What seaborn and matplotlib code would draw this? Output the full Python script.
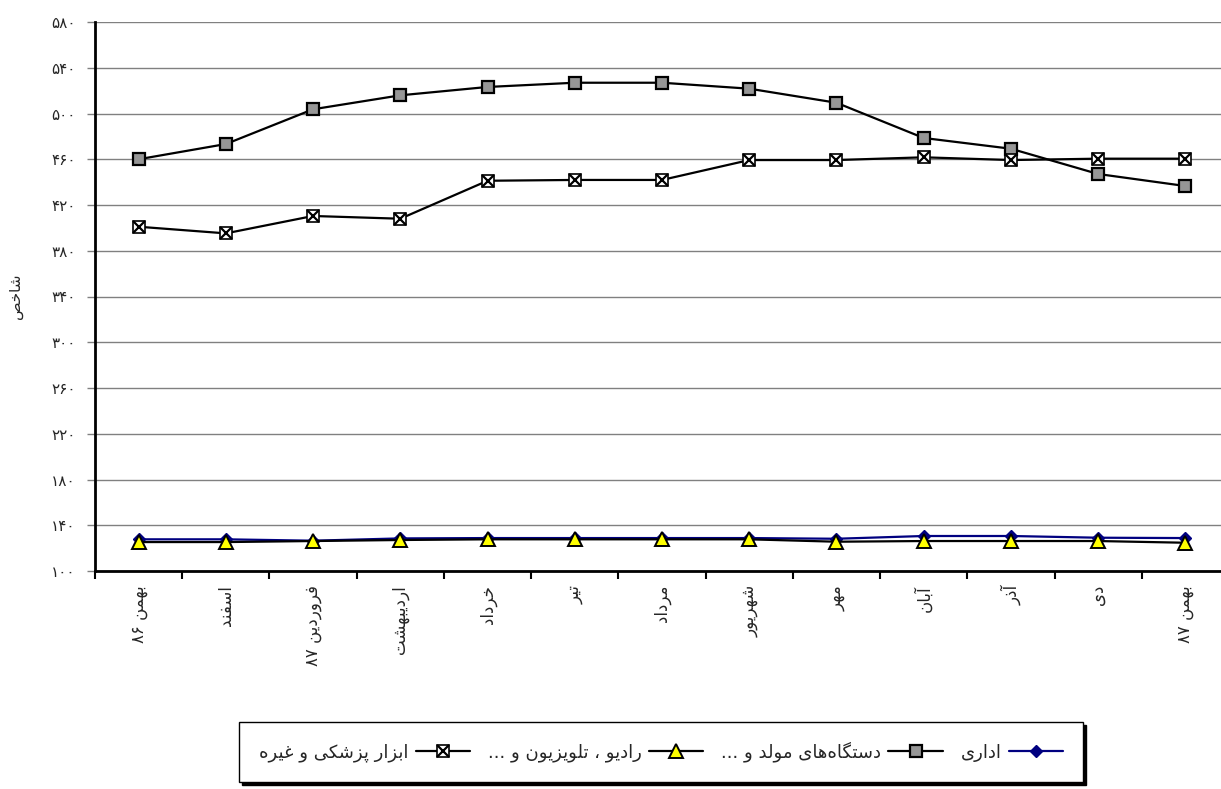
import re
import matplotlib
matplotlib.use('Agg')
import matplotlib.pyplot as plt
from matplotlib.lines import Line2D
import seaborn as sns
import pandas as pd

# ---- data ----
months = ['بهمن ۸۶', 'اسفند', 'فروردین ۸۷', 'اردیبهشت', 'خرداد', 'تیر', 'مرداد',
          'شهریور', 'مهر', 'آبان', 'آذر', 'دی', 'بهمن ۸۷']
series_names = ['اداری', 'دستگاه‌های مولد و ...', 'رادیو ، تلویزیون و ...', 'ابزار پزشکی و غیره']
edari = [127.7, 127.7, 126.5, 128.5, 128.8, 128.8, 128.8, 128.8, 128.2, 130.6, 130.6, 129.1, 128.8]
mowled = [460.0, 473.3, 503.7, 515.9, 523.2, 526.9, 526.9, 521.7, 509.4, 478.6, 469.2, 447.1, 436.6]
radio = [125.3, 125.3, 126.2, 127.1, 127.7, 127.7, 127.7, 127.7, 125.6, 126.2, 126.2, 126.2, 124.7]
pezeshki = [401.0, 395.2, 410.4, 408.0, 441.2, 441.9, 441.9, 459.3, 459.3, 461.7, 459.3, 460.5, 460.5]
yticks = [100, 140, 180, 220, 260, 300, 340, 380, 420, 460, 500, 540, 580]
ylabel_text = 'شاخص'

# ---- minimal persian shaping (matplotlib has no bidi / joining) ----
# isolated, final, initial, medial
FORMS = {
    'ا': (0xFE8D, 0xFE8E), 'آ': (0xFE81, 0xFE82), 'د': (0xFEA9, 0xFEAA),
    'ذ': (0xFEAB, 0xFEAC), 'ر': (0xFEAD, 0xFEAE), 'ز': (0xFEAF, 0xFEB0),
    'ژ': (0xFB8A, 0xFB8B), 'و': (0xFEED, 0xFEEE),
    'ب': (0xFE8F, 0xFE90, 0xFE91, 0xFE92), 'پ': (0xFB56, 0xFB57, 0xFB58, 0xFB59),
    'ت': (0xFE95, 0xFE96, 0xFE97, 0xFE98), 'خ': (0xFEA5, 0xFEA6, 0xFEA7, 0xFEA8),
    'س': (0xFEB1, 0xFEB2, 0xFEB3, 0xFEB4), 'ش': (0xFEB5, 0xFEB6, 0xFEB7, 0xFEB8),
    'ص': (0xFEB9, 0xFEBA, 0xFEBB, 0xFEBC), 'غ': (0xFECD, 0xFECE, 0xFECF, 0xFED0),
    'ف': (0xFED1, 0xFED2, 0xFED3, 0xFED4), 'ک': (0xFB8E, 0xFB8F, 0xFB90, 0xFB91),
    'گ': (0xFB92, 0xFB93, 0xFB94, 0xFB95), 'ل': (0xFEDD, 0xFEDE, 0xFEDF, 0xFEE0),
    'م': (0xFEE1, 0xFEE2, 0xFEE3, 0xFEE4), 'ن': (0xFEE5, 0xFEE6, 0xFEE7, 0xFEE8),
    'ه': (0xFEE9, 0xFEEA, 0xFEEB, 0xFEEC), 'ی': (0xFBFC, 0xFBFD, 0xFBFE, 0xFBFF),
}


def fa(text):
    out = []
    for i, ch in enumerate(text):
        if ch not in FORMS:
            if ch != '\u200c':
                out.append(ch)
            continue
        prev = text[i - 1] if i > 0 else ''
        nxt = text[i + 1] if i + 1 < len(text) else ''
        join_prev = prev in FORMS and len(FORMS[prev]) == 4
        join_next = len(FORMS[ch]) == 4 and nxt in FORMS
        f = FORMS[ch]
        if join_prev and join_next:
            out.append(chr(f[3]))
        elif join_prev:
            out.append(chr(f[1]))
        elif join_next:
            out.append(chr(f[2]))
        else:
            out.append(chr(f[0]))
    tokens = re.findall(r'[۰-۹0-9]+|[^۰-۹0-9]', ''.join(out))
    return ''.join(reversed(tokens))


def fa_num(n):
    return str(n).translate(str.maketrans('0123456789', '۰۱۲۳۴۵۶۷۸۹'))


sns.set_style('white')
plt.rcParams['font.family'] = ['DejaVu Sans']

df = pd.DataFrame({
    'pos': list(range(len(months))) * 4,
    'value': edari + mowled + radio + pezeshki,
    'series': [n for n in series_names for _ in months],
})

fig = plt.figure(figsize=(12.21, 7.89), dpi=100)
ax = fig.add_axes([95 / 1221, 1 - 571 / 789, 1134 / 1221, 549 / 789])

styles = {
    series_names[0]: dict(color='#000080', marker='D', markersize=6.5, markerfacecolor='#000080',
                          markeredgecolor='#000080', markeredgewidth=1),
    series_names[1]: dict(color='black', marker='s', markersize=9, markerfacecolor='#969696',
                          markeredgecolor='black', markeredgewidth=1.6),
    series_names[2]: dict(color='black', marker='^', markersize=10, markerfacecolor='#FFFF00',
                          markeredgecolor='black', markeredgewidth=1.4),
    series_names[3]: dict(color='black', marker='s', markersize=9, markerfacecolor='white',
                          markeredgecolor='black', markeredgewidth=1.2),
}

for name in series_names:
    sns.lineplot(data=df[df['series'] == name], x='pos', y='value', ax=ax,
                 linewidth=1.6, legend=False, zorder=3, **styles[name])
# cross inside the squares for the last series
sub = df[df['series'] == series_names[3]]
ax.plot(sub['pos'], sub['value'], linestyle='none', marker='x', markersize=9,
        markeredgecolor='black', markeredgewidth=1.6, zorder=4)

ax.set_xlim(-0.5, len(months) - 0.5)
ax.set_ylim(100, 580)
ax.set_yticks(yticks)
ax.set_yticklabels([fa_num(t) for t in yticks], fontsize=11)
ax.yaxis.grid(True, color='#808080', linewidth=1)
ax.xaxis.grid(False)

ax.set_xticks([i - 0.5 for i in range(len(months) + 1)])
ax.set_xticklabels([])
ax.set_xticks(range(len(months)), minor=True)
ax.set_xticklabels([fa(m) for m in months], minor=True, rotation=90, fontsize=12,
                   ha='center', va='top')
ax.tick_params(axis='x', which='major', direction='out', length=6, width=1.5, color='black', bottom=True)
ax.tick_params(axis='x', which='minor', length=0, pad=10)
ax.tick_params(axis='y', direction='out', length=6, width=1, color='#808080', left=True, pad=8)

ax.set_xlabel('')
ax.set_ylabel(fa(ylabel_text), fontsize=11, labelpad=20)
for s in ['top', 'right']:
    ax.spines[s].set_visible(False)
for s in ['left', 'bottom']:
    ax.spines[s].set_color('black')
    ax.spines[s].set_linewidth(2)

# legend, right-to-left order with markers after the text
handles = []
for name in series_names:
    st = styles[name]
    h = Line2D([], [], linewidth=1.6, **st)
    if name == series_names[3]:
        h = (h, Line2D([], [], linestyle='none', marker='x', markersize=9,
                       markeredgecolor='black', markeredgewidth=1.6))
    handles.append(h)
order = [3, 2, 1, 0]
fig.legend([handles[i] for i in order], [fa(series_names[i]) for i in order],
           loc='center', bbox_to_anchor=(661 / 1221, 1 - 752 / 789), ncol=4,
           markerfirst=False, frameon=True, fancybox=False, edgecolor='black',
           shadow={'color': 'black', 'alpha': 1}, fontsize=13, handlelength=3,
           columnspacing=1.0, handletextpad=0.4, borderpad=1.1)

fig.savefig('out.png', dpi=100)
